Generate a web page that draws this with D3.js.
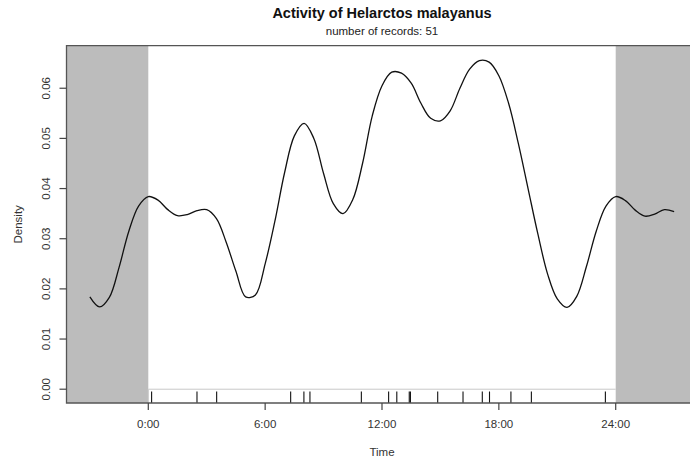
<!DOCTYPE html>
<html><head><meta charset="utf-8">
<script src="https://cdn.jsdelivr.net/npm/d3@7"></script>
<style>body{margin:0;background:#fff}svg{display:block;font-family:"Liberation Sans",Arial,sans-serif}</style>
</head><body>
<script>
const title = "Activity of Helarctos malayanus";
const subtitle = "number of records: 51";
const densityHours = [-3,-2.5,-2,-1.5,-1,-0.5,0,0.5,1,1.5,2,2.5,3,3.5,4,4.5,5,5.5,6,6.5,7,7.5,8,8.5,9,9.5,10,10.5,11,11.5,12,12.5,13,13.5,14,14.5,15,15.5,16,16.5,17,17.5,18,18.5,19,19.5,20,20.5,21,21.5,22,22.5,23,23.5,24,24.5,25,25.5,26,26.5,27];
const densityValues = [0.0184,0.0164,0.0183,0.0243,0.0315,0.0365,0.0384,0.0377,0.0358,0.0346,0.0348,0.0356,0.0358,0.0340,0.0293,0.0235,0.0184,0.0188,0.0250,0.0335,0.0432,0.0505,0.0530,0.0500,0.0430,0.0370,0.0350,0.0378,0.0450,0.0545,0.0605,0.0632,0.0630,0.0610,0.0570,0.0540,0.0535,0.0555,0.0600,0.0638,0.0655,0.0652,0.0625,0.0570,0.0490,0.0400,0.0310,0.0230,0.0180,0.0163,0.0185,0.0245,0.0315,0.0365,0.0384,0.0376,0.0357,0.0345,0.0349,0.0358,0.0354];
const rugHours = [0.17,2.5,3.51,7.31,7.99,8.3,10.94,12.34,12.76,13.4,13.46,14.86,16.16,17.15,17.52,18.62,19.67,23.47];
const xTicks = [0,6,12,18,24];
const xTickLabels = ["0:00","6:00","12:00","18:00","24:00"];
const yTicks = [0,0.01,0.02,0.03,0.04,0.05,0.06];

const W=690,H=464;
const svg=d3.select("body").append("svg").attr("width",W).attr("height",H);
const x=d3.scaleLinear().domain([-4.2,28.2]).range([66.5,697.5]);
const y=d3.scaleLinear().domain([-0.00275,0.0685]).range([403,45.6]);
const pL=66.5, pR=697.5, pT=45.6, pB=403;

// grey night areas
svg.append("rect").attr("x",pL).attr("y",pT).attr("width",x(0)-pL).attr("height",pB-pT).attr("fill","#bcbcbc");
svg.append("rect").attr("x",x(24)).attr("y",pT).attr("width",pR-x(24)).attr("height",pB-pT).attr("fill","#bcbcbc");
// baseline at 0
svg.append("line").attr("x1",x(0)).attr("x2",x(24)).attr("y1",y(0)).attr("y2",y(0)).attr("stroke","#c8c8c8").attr("stroke-width",1);
svg.append("line").attr("x1",x(0)).attr("x2",x(0)).attr("y1",y(0)).attr("y2",pB).attr("stroke","#c8c8c8").attr("stroke-width",1);

// rug
svg.append("g").selectAll("line").data(rugHours).join("line")
 .attr("x1",d=>x(d)).attr("x2",d=>x(d)).attr("y1",391.5).attr("y2",pB)
 .attr("stroke","#111").attr("stroke-width",1.1);

// density curve
const pts=densityHours.map((h,i)=>[h,densityValues[i]]);
svg.append("path").datum(pts).attr("fill","none").attr("stroke","#111").attr("stroke-width",1.3)
 .attr("d",d3.line().x(d=>x(d[0])).y(d=>y(d[1])).curve(d3.curveCatmullRom.alpha(0.5)));

// box
svg.append("path").attr("d",`M${pR},${pT}H${pL}V${pB}H${pR}`).attr("fill","none").attr("stroke","#555").attr("stroke-width",1.3);

// y axis
const ya=svg.append("g");
yTicks.forEach(t=>{
  ya.append("line").attr("x1",pL-7).attr("x2",pL).attr("y1",y(t)).attr("y2",y(t)).attr("stroke","#444").attr("stroke-width",1.2);
  ya.append("text").attr("transform",`translate(${pL-16.5},${y(t)}) rotate(-90)`).attr("text-anchor","middle").attr("font-size",11.5).attr("fill","#333").text(d3.format(".2f")(t));
});
// x axis
const xa=svg.append("g");
xTicks.forEach((t,i)=>{
  xa.append("line").attr("x1",x(t)).attr("x2",x(t)).attr("y1",pB).attr("y2",pB+7).attr("stroke","#444").attr("stroke-width",1.2);
  xa.append("text").attr("x",x(t)).attr("y",pB+25).attr("text-anchor","middle").attr("font-size",11.5).attr("fill","#333").text(xTickLabels[i]);
});
// labels
svg.append("text").attr("x",382).attr("y",456).attr("text-anchor","middle").attr("font-size",11.5).attr("fill","#333").text("Time");
svg.append("text").attr("transform",`translate(22,${(pT+pB)/2}) rotate(-90)`).attr("text-anchor","middle").attr("font-size",11.5).attr("fill","#333").text("Density");
svg.append("text").attr("x",382).attr("y",18).attr("text-anchor","middle").attr("font-size",14.5).attr("font-weight","bold").attr("fill","#111").text(title);
svg.append("text").attr("x",382).attr("y",35).attr("text-anchor","middle").attr("font-size",11.5).attr("fill","#222").text(subtitle);
</script>
</body></html>
